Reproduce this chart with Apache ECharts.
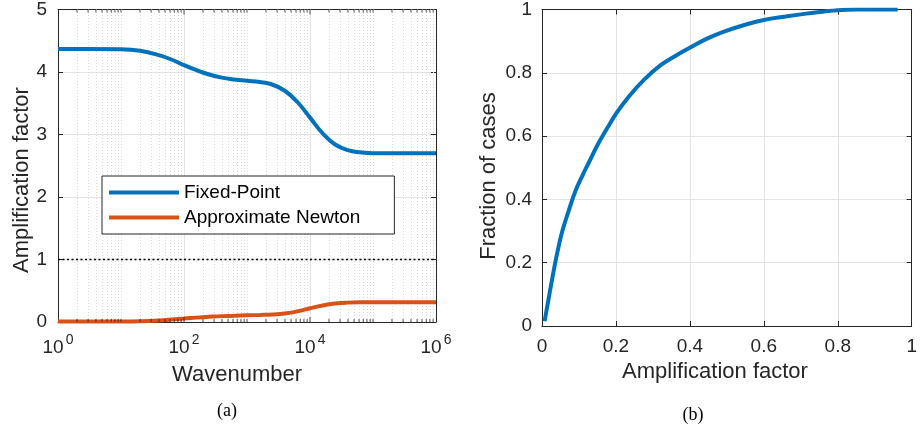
<!DOCTYPE html>
<html>
<head>
<meta charset="utf-8">
<script src="https://cdn.jsdelivr.net/npm/echarts@6/dist/echarts.min.js"></script>
<style>
  html, body { margin: 0; padding: 0; background: #fff; }
  #chart { width: 920px; height: 429px; }
</style>
</head>
<body>
<div id="chart"></div>
<script>
// (a) amplification factor versus wavenumber
const wavenumbers = [1, 3.16, 10, 20, 40, 63, 100, 158, 251, 398, 631, 1000, 1585, 2512,
  3981, 6310, 10000, 15849, 25119, 39811, 63096, 100000, 316228, 1000000];
const fixedPoint = [4.37, 4.37, 4.365, 4.34, 4.27, 4.20, 4.11, 4.03, 3.96, 3.91, 3.88, 3.86,
  3.84, 3.80, 3.70, 3.52, 3.27, 3.02, 2.84, 2.75, 2.715, 2.70, 2.70, 2.70];
const approximateNewton = [0.01, 0.01, 0.01, 0.013, 0.025, 0.04, 0.055, 0.07, 0.083, 0.094,
  0.10, 0.107, 0.113, 0.12, 0.137, 0.17, 0.22, 0.265, 0.295, 0.31, 0.315, 0.315, 0.315, 0.315];
const unitLevel = [[1, 1], [1000000, 1]];

// (b) cumulative fraction of cases versus amplification factor
const amplificationFactor = [0.007, 0.02, 0.033, 0.042, 0.055, 0.073, 0.091, 0.11, 0.126, 0.153,
  0.184, 0.2, 0.233, 0.277, 0.321, 0.366, 0.401, 0.445, 0.492, 0.55, 0.60, 0.66, 0.715, 0.76,
  0.80, 0.85, 0.962];
const fractionOfCases = [0.015, 0.10, 0.183, 0.235, 0.30, 0.367, 0.428, 0.477, 0.515, 0.578,
  0.640, 0.670, 0.722, 0.779, 0.824, 0.857, 0.880, 0.907, 0.930, 0.952, 0.967, 0.978, 0.987, 0.993,
  0.998, 1.0, 1.0];

// axis ticks
const majorDecades = [1, 100, 10000, 1000000];
const decadeStarts = [1, 10, 100, 1000, 10000, 100000];
const decadeSteps = [1, 2, 3, 4, 5, 6, 7, 8, 9];
const amplificationTicks = [0, 1, 2, 3, 4, 5];
const unitTicks = [0, 0.2, 0.4, 0.6, 0.8, 1];

const minorWavenumbers = [];
decadeStarts.forEach(d => decadeSteps.forEach(s => {
  const v = d * s;
  if (majorDecades.indexOf(v) < 0) minorWavenumbers.push(v);
}));

const AX = '#262626';
const GRID = '#e3e3e3';
const MINOR = '#dadada';
const BLUE = '#0072BD';
const ORANGE = '#D95319';
const FONT = '"Liberation Sans", Arial, Helvetica, sans-serif';
const SERIF = '"Liberation Serif", "DejaVu Serif", serif';
const TICK_SIZE = 19;
const TITLE_FONT = '22px ' + FONT;

const chart = echarts.init(document.getElementById('chart'), null, { renderer: 'canvas' });

function frameAxis(extra) {
  return Object.assign({
    axisLine: { show: true, onZero: false, lineStyle: { color: AX, width: 1 } },
    axisTick: { show: true, inside: true, length: 5, lineStyle: { color: AX, width: 1 } },
    axisLabel: { show: false },
    splitLine: { show: false }
  }, extra);
}

const logLabel = {
  show: true,
  margin: 12,
  color: AX,
  fontFamily: FONT,
  formatter: function (v) {
    const e = Math.round(Math.log10(v));
    if (e % 2 !== 0) return '';
    return '{b|10}{s|' + e + '}';
  },
  rich: {
    b: { fontSize: TICK_SIZE, fontFamily: FONT, color: AX, verticalAlign: 'bottom', lineHeight: 23 },
    s: { fontSize: 14, fontFamily: FONT, color: AX, verticalAlign: 'bottom', lineHeight: 23, padding: [0, 0, 10, 2] }
  }
};

const unitLabel = {
  show: true, color: AX, fontSize: TICK_SIZE, fontFamily: FONT,
  formatter: v => String(Math.round(v * 10) / 10)
};

function tickMarks(yValue, offset, len, positions) {
  return {
    type: 'scatter', xAxisIndex: 0, yAxisIndex: 0, silent: true, z: 6,
    symbol: 'rect', symbolSize: [1, len], symbolOffset: [0, offset],
    itemStyle: { color: AX },
    clip: false,
    data: positions.map(v => [v, yValue])
  };
}

function gridLines(positions, style) {
  return {
    type: 'line', xAxisIndex: 0, yAxisIndex: 0, data: [], silent: true, z: 1,
    markLine: {
      z: 1, silent: true, symbol: ['none', 'none'], label: { show: false }, animation: false,
      lineStyle: style,
      data: positions.map(v => ({ xAxis: v }))
    }
  };
}

const option = {
  backgroundColor: '#fff',
  animation: false,
  textStyle: { fontFamily: FONT },
  grid: [
    { left: 58, top: 7, width: 378, height: 315, containLabel: false },
    { left: 542, top: 6, width: 375, height: 320, containLabel: false }
  ],
  xAxis: [
    frameAxis({
      gridIndex: 0, type: 'log', logBase: 10, min: 1, max: 1000000, position: 'bottom',
      axisTick: { show: false },
      axisLabel: logLabel
    }),
    frameAxis({
      gridIndex: 0, type: 'log', logBase: 10, min: 1, max: 1000000, position: 'top',
      axisTick: { show: false }
    }),
    frameAxis({
      gridIndex: 1, type: 'value', min: 0, max: 1, interval: 0.2, position: 'bottom',
      axisLabel: Object.assign({ margin: 11 }, unitLabel),
      splitLine: { show: true, lineStyle: { color: GRID, width: 1 } }
    }),
    frameAxis({
      gridIndex: 1, type: 'value', min: 0, max: 1, interval: 0.2, position: 'top'
    })
  ],
  yAxis: [
    frameAxis({
      gridIndex: 0, type: 'value', min: 0, max: 5, interval: 1, position: 'left',
      axisLabel: { show: true, color: AX, fontSize: TICK_SIZE, fontFamily: FONT, margin: 11 },
      splitLine: { show: true, lineStyle: { color: GRID, width: 1 } }
    }),
    frameAxis({
      gridIndex: 0, type: 'value', min: 0, max: 5, interval: 1, position: 'right'
    }),
    frameAxis({
      gridIndex: 1, type: 'value', min: 0, max: 1, interval: 0.2, position: 'left',
      axisLabel: Object.assign({ margin: 10 }, unitLabel),
      splitLine: { show: true, lineStyle: { color: GRID, width: 1 } }
    }),
    frameAxis({
      gridIndex: 1, type: 'value', min: 0, max: 1, interval: 0.2, position: 'right'
    })
  ],
  legend: {
    data: ['Fixed-Point', 'Approximate Newton'],
    orient: 'vertical',
    left: 102, top: 176,
    icon: 'rect', itemWidth: 70, itemHeight: 4, itemGap: 6,
    padding: [7, 34, 7, 7],
    borderColor: AX, borderWidth: 1, borderRadius: 0,
    backgroundColor: '#fff',
    selectedMode: false,
    z: 10,
    textStyle: { fontSize: TICK_SIZE, color: '#000', fontFamily: FONT, lineHeight: 18 }
  },
  series: [
    // minor (dotted) and major (solid) vertical grid lines of the log axis
    gridLines(minorWavenumbers, { color: MINOR, type: [1, 2], width: 1 }),
    gridLines([100, 10000], { color: GRID, type: 'solid', width: 1 }),
    // tick marks on the log axis, bottom and top
    tickMarks(0, -1.5, 3, minorWavenumbers),
    tickMarks(0, -2.5, 5, [100, 10000]),
    tickMarks(5, 1.5, 3, minorWavenumbers),
    tickMarks(5, 2.5, 5, [100, 10000]),
    {
      name: 'unit', type: 'line', xAxisIndex: 0, yAxisIndex: 0, z: 3,
      data: unitLevel, symbol: 'none', silent: true,
      lineStyle: { color: '#000', width: 1.6, type: [2, 2.5] }
    },
    {
      name: 'Fixed-Point', type: 'line', xAxisIndex: 0, yAxisIndex: 0, z: 4,
      data: wavenumbers.map((w, i) => [w, fixedPoint[i]]),
      symbol: 'none', smooth: 0.45,
      color: BLUE, lineStyle: { color: BLUE, width: 4 }
    },
    {
      name: 'Approximate Newton', type: 'line', xAxisIndex: 0, yAxisIndex: 0, z: 4,
      data: wavenumbers.map((w, i) => [w, approximateNewton[i]]),
      symbol: 'none', smooth: 0.45,
      color: ORANGE, lineStyle: { color: ORANGE, width: 4 }
    },
    {
      name: 'Fraction of cases', type: 'line', xAxisIndex: 2, yAxisIndex: 2, z: 4,
      data: amplificationFactor.map((a, i) => [a, fractionOfCases[i]]),
      symbol: 'none', smooth: 0.45,
      color: BLUE, lineStyle: { color: BLUE, width: 4 }
    }
  ],
  graphic: [
    { type: 'text', x: 22, y: 180, rotation: Math.PI / 2,
      style: { text: 'Amplification factor', font: TITLE_FONT, fill: AX, align: 'center', verticalAlign: 'middle' } },
    { type: 'text', x: 237, y: 375,
      style: { text: 'Wavenumber', font: TITLE_FONT, fill: AX, align: 'center', verticalAlign: 'middle' } },
    { type: 'text', x: 227, y: 411,
      style: { text: '(a)', font: '18px ' + SERIF, fill: '#000', align: 'center', verticalAlign: 'middle' } },
    { type: 'text', x: 489, y: 176, rotation: Math.PI / 2,
      style: { text: 'Fraction of cases', font: TITLE_FONT, fill: AX, align: 'center', verticalAlign: 'middle' } },
    { type: 'text', x: 715, y: 372,
      style: { text: 'Amplification factor', font: TITLE_FONT, fill: AX, align: 'center', verticalAlign: 'middle' } },
    { type: 'text', x: 693, y: 415,
      style: { text: '(b)', font: '18px ' + SERIF, fill: '#000', align: 'center', verticalAlign: 'middle' } }
  ]
};

chart.setOption(option);
</script>
</body>
</html>
